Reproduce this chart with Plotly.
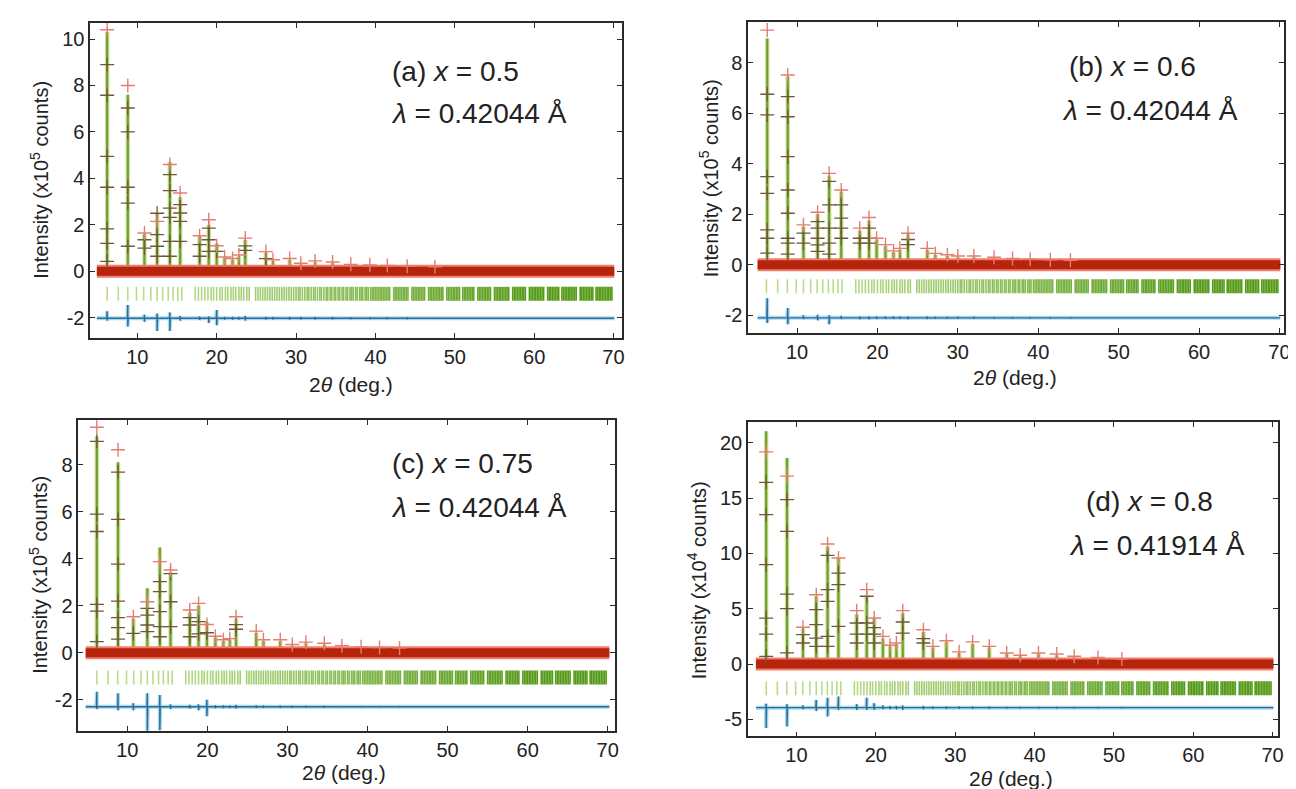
import plotly.graph_objects as go

W, H = 1296, 789

# ---------------- data ----------------
# shared Bragg reflection positions (2theta, deg.)
bragg = [6.2, 7.6, 8.8, 9.9, 10.8, 11.7, 12.5, 13.2, 13.9, 14.5, 15.1, 15.6,
         17.3, 17.7, 18.1, 18.5, 18.9, 19.3, 19.6, 20.0, 20.4, 20.7, 21.1, 21.4,
         21.8, 22.1, 22.4, 22.8, 23.1, 23.4, 23.8, 24.1, 24.9, 25.2, 25.5, 25.8,
         26.1, 26.4, 26.7, 27.0, 27.3, 27.6, 27.9, 28.2, 28.5, 28.8, 29.1, 29.4,
         29.7, 30.0, 30.3, 30.5, 30.8, 31.1, 31.4, 31.6, 31.9, 32.2, 32.4, 32.7,
         33.0, 33.2, 33.5, 33.8, 34.0, 34.3, 34.5, 34.8, 35.0, 35.3, 35.5, 35.8,
         36.0, 36.3, 36.5, 36.8, 37.0, 37.2, 37.5, 37.7, 38.0, 38.2, 38.4, 38.7,
         38.9, 39.1, 39.4, 39.6, 39.8,
         40.0, 40.2, 40.4, 40.6, 40.8, 41.0, 41.2, 41.4, 41.6, 41.8,
         42.3, 42.5, 42.7, 42.9, 43.1, 43.3, 43.5, 43.7, 43.9, 44.1,
         44.6, 44.8, 45.0, 45.2, 45.4, 45.6, 45.8, 46.0, 46.2,
         46.7, 46.9, 47.1, 47.3, 47.5, 47.7, 47.9, 48.1, 48.3, 48.5,
         49.0, 49.2, 49.4, 49.6, 49.8, 50.0, 50.2, 50.4, 50.6,
         51.0, 51.2, 51.4, 51.6, 51.8, 52.0, 52.2, 52.4,
         52.9, 53.1, 53.3, 53.5, 53.7, 53.9, 54.1, 54.3, 54.5,
         55.0, 55.2, 55.4, 55.6, 55.8, 56.0, 56.2, 56.4, 56.6, 56.8,
         57.3, 57.5, 57.7, 57.9, 58.1, 58.3, 58.5, 58.7, 58.9,
         59.4, 59.6, 59.8, 60.0, 60.2, 60.4, 60.6, 60.8, 61.0, 61.2,
         61.7, 61.9, 62.1, 62.3, 62.5, 62.7, 62.9, 63.1,
         63.5, 63.7, 63.9, 64.1, 64.3, 64.5, 64.7, 64.9, 65.1, 65.3,
         65.8, 66.0, 66.2, 66.4, 66.6, 66.8, 67.0, 67.2, 67.4,
         67.8, 68.0, 68.2, 68.4, 68.6, 68.8, 69.0, 69.2, 69.4, 69.6, 69.8]

x_ticks = [10, 20, 30, 40, 50, 60, 70]

# (a) x = 0.5
pk_a = [6.2, 8.8, 10.9, 12.5, 14.1, 15.4, 17.85, 19.0, 20.0, 21.0, 22.0, 22.8,
        23.6, 26.2, 27.1, 29.2, 30.6, 32.4, 34.6, 36.9, 39.3, 41.5, 44.0, 47.5]
calc_a = [10.3, 7.6, 1.6, 2.5, 4.7, 3.2, 1.5, 2.0, 1.2, 0.6, 0.5, 0.65,
          1.35, 0.8, 0.45, 0.5, 0.3, 0.4, 0.35, 0.25, 0.25, 0.2, 0.2, 0.15]
obs_a = [10.4, 8.0, 1.65, 2.15, 4.6, 3.37, 1.53, 2.22, 1.1, 0.62, 0.55, 0.7,
         1.43, 0.85, 0.5, 0.55, 0.35, 0.45, 0.4, 0.3, 0.28, 0.25, 0.22, 0.2]
side_a = [[8.9, 7.58, 4.95, 3.62, 1.83, 1.2, 0.43], [7.03, 6.0, 3.62, 2.94, 1.08],
          [1.36, 1.0], [2.5, 1.58, 1.08, 0.65], [4.16, 3.47, 2.72, 2.32, 1.29, 0.65],
          [2.87, 2.51, 2.15, 1.29], [1.15, 0.65], [1.86, 1.36, 0.86], [0.86],
          [], [], [], [1.1, 0.9], [0.55], [], [], [], [], [], [], [], [], [], []]
up_a = [0.3, 0.57, 0.15, 0.2, 0.25, 0.1, 0.08, 0.08, 0.35, 0.06, 0.06, 0.06,
        0.1, 0.06, 0.05, 0.06, 0.05, 0.05, 0.05, 0.04, 0.04, 0.04, 0.04, 0.03]
dn_a = [0.1, 0.36, 0.15, 0.55, 0.55, 0.1, 0.08, 0.2, 0.3, 0.06, 0.06, 0.06,
        0.1, 0.06, 0.05, 0.06, 0.05, 0.05, 0.05, 0.04, 0.04, 0.04, 0.04, 0.03]

# (b) x = 0.6
pk_b = [6.3, 8.85, 10.8, 12.56, 14.0, 15.5, 17.8, 18.96, 19.9, 21.0, 22.0, 22.8,
        23.8, 26.2, 27.2, 28.7, 30.0, 32.0, 34.5, 36.8, 39.0, 41.5, 44.0]
calc_b = [8.96, 7.45, 1.5, 2.0, 3.5, 2.9, 1.35, 1.75, 1.0, 0.75, 0.5, 0.6,
          1.2, 0.6, 0.4, 0.35, 0.3, 0.3, 0.25, 0.2, 0.2, 0.15, 0.15]
obs_b = [9.29, 7.51, 1.58, 2.08, 3.62, 2.96, 1.45, 1.87, 1.05, 0.8, 0.55, 0.65,
         1.25, 0.65, 0.45, 0.4, 0.35, 0.35, 0.3, 0.25, 0.22, 0.2, 0.18]
side_b = [[6.75, 5.93, 3.49, 2.83, 1.38, 1.05, 0.46],
          [6.66, 5.86, 4.28, 2.96, 2.04, 1.05, 0.86, 0.42],
          [1.25, 0.86], [1.71, 1.45, 1.05, 0.79, 0.53], [3.3, 2.37, 1.45, 0.86, 0.42],
          [2.37, 1.85, 1.45, 1.05], [1.05, 0.86], [1.45, 1.05, 0.86],
          [], [], [], [], [1.0, 0.8], [], [], [], [], [], [], [], [], [], []]
up_b = [0.78, 0.39, 0.1, 0.12, 0.1, 0.08, 0.06, 0.06, 0.05, 0.05, 0.05, 0.05,
        0.06, 0.05, 0.04, 0.04, 0.04, 0.04, 0.03, 0.03, 0.03, 0.03, 0.03]
dn_b = [0.2, 0.25, 0.05, 0.1, 0.25, 0.05, 0.06, 0.06, 0.05, 0.05, 0.05, 0.05,
        0.06, 0.05, 0.04, 0.04, 0.04, 0.04, 0.03, 0.03, 0.03, 0.03, 0.03]

# (c) x = 0.75
pk_c = [6.19, 8.84, 10.75, 12.5, 14.06, 15.4, 17.8, 18.9, 19.94, 21.0, 22.0, 22.8,
        23.58, 26.1, 27.0, 29.1, 30.6, 32.3, 34.6, 36.8, 39.2, 41.5, 44.0]
calc_c = [9.21, 8.11, 1.45, 2.74, 4.48, 3.4, 1.7, 2.0, 1.32, 0.65, 0.5, 0.55,
          1.45, 0.85, 0.5, 0.5, 0.3, 0.4, 0.35, 0.25, 0.22, 0.2, 0.15]
obs_c = [9.6, 8.64, 1.53, 2.17, 3.88, 3.52, 1.82, 2.1, 1.2, 0.7, 0.55, 0.6,
         1.53, 0.92, 0.55, 0.55, 0.35, 0.45, 0.4, 0.3, 0.25, 0.22, 0.2]
side_c = [[9.0, 5.9, 5.16, 2.06, 1.77, 0.47], [7.69, 5.68, 3.77, 2.2, 1.49, 1.07, 0.58],
          [0.82], [1.89, 1.6, 1.18, 0.9], [3.03, 2.6, 1.75, 1.11, 0.68],
          [3.37, 2.17, 1.11], [1.49, 1.18, 0.68], [1.32, 0.8], [0.85],
          [], [], [], [1.2, 1.0], [], [], [], [], [], [], [], [], [], []]
up_c = [0.64, 0.57, 0.15, 0.57, 0.5, 0.1, 0.08, 0.1, 0.3, 0.06, 0.06, 0.06,
        0.08, 0.06, 0.05, 0.05, 0.04, 0.04, 0.04, 0.03, 0.03, 0.03, 0.03]
dn_c = [0.1, 0.15, 0.15, 1.07, 1.0, 0.1, 0.08, 0.15, 0.4, 0.06, 0.06, 0.06,
        0.08, 0.06, 0.05, 0.05, 0.04, 0.04, 0.04, 0.03, 0.03, 0.03, 0.03]

# (d) x = 0.8
pk_d = [6.19, 8.82, 10.83, 12.5, 13.93, 15.3, 17.6, 18.86, 19.8, 20.9, 21.8, 22.6,
        23.4, 26.0, 27.2, 28.9, 30.5, 32.2, 34.3, 36.5, 38.2, 40.5, 42.8, 45.0, 48.0, 51.0]
calc_d = [21.06, 18.64, 3.2, 6.1, 10.6, 9.59, 4.5, 6.2, 4.16, 2.3, 1.6, 1.8,
          4.6, 2.9, 1.5, 2.0, 1.0, 1.8, 1.5, 0.9, 0.7, 0.9, 0.8, 0.6, 0.5, 0.4]
obs_d = [19.19, 17.0, 3.32, 6.27, 10.86, 9.59, 4.83, 6.73, 4.16, 2.5, 1.7, 1.9,
         4.83, 3.1, 1.6, 2.1, 1.1, 2.0, 1.6, 1.0, 0.8, 1.0, 0.9, 0.7, 0.6, 0.45]
side_d = [[16.44, 13.51, 8.99, 4.16, 2.71, 0.7], [14.87, 12.0, 6.33, 5.01, 1.0],
          [2.66, 1.9], [4.92, 3.56, 2.35, 1.6], [9.83, 6.73, 5.67, 2.5, 1.6],
          [8.23, 7.18, 3.41], [3.71, 2.71, 1.9], [6.13, 3.71, 2.7], [3.3, 2.7, 1.9],
          [], [], [], [3.8, 2.8], [2.3, 1.9], [], [], [], [], [], [], [], [], [], [], [], []]
up_d = [0.35, 0.3, 0.2, 0.7, 0.9, 1.0, 0.3, 0.9, 0.4, 0.2, 0.15, 0.15,
        0.2, 0.15, 0.1, 0.12, 0.1, 0.1, 0.1, 0.08, 0.08, 0.08, 0.08, 0.06, 0.06, 0.05]
dn_d = [1.85, 1.7, 0.15, 0.3, 0.8, 0.2, 0.2, 0.2, 0.2, 0.15, 0.15, 0.15,
        0.2, 0.15, 0.1, 0.12, 0.1, 0.1, 0.1, 0.08, 0.08, 0.08, 0.08, 0.06, 0.06, 0.05]

panels = [
    dict(pk=pk_a, calc=calc_a, obs=obs_a, side=side_a, up=up_a, dn=dn_a,
         scan=[4.9, 70.1], bragg_y=-0.97, diff_base=-2.02,
         yticks=[-2, 0, 2, 4, 6, 8, 10], xr=[4.07, 71.03], yr=[-2.87, 10.69],
         px=[82.7, 617], py=[15, 330], exp="5",
         lab1="(a) <i>x</i> = 0.5", lab2="<i>λ</i> = 0.42044 Å",
         l1=(384, 63), l2=(383, 106), yt=(31, 172), xt=(345, 376)),
    dict(pk=pk_b, calc=calc_b, obs=obs_b, side=side_b, up=up_b, dn=dn_b,
         scan=[5.1, 70.1], bragg_y=-0.85, diff_base=-2.1,
         yticks=[-2, 0, 2, 4, 6, 8], xr=[3.94, 70.57], yr=[-2.70, 9.61],
         px=[744.3, 1283], py=[14, 325], exp="5",
         lab1="(b) <i>x</i> = 0.6", lab2="<i>λ</i> = 0.42044 Å",
         l1=(1065, 58), l2=(1058, 102), yt=(704, 170), xt=(1012, 370)),
    dict(pk=pk_c, calc=calc_c, obs=obs_c, side=side_c, up=up_c, dn=dn_c,
         scan=[4.8, 70.2], bragg_y=-1.06, diff_base=-2.3,
         yticks=[-2, 0, 2, 4, 6, 8], xr=[3.88, 70.87], yr=[-3.32, 9.92],
         px=[70.7, 610], py=[411.7, 722.7], exp="5",
         lab1="(c) <i>x</i> = 0.75", lab2="<i>λ</i> = 0.42044 Å",
         l1=(384, 455), l2=(383, 499), yt=(30, 567), xt=(338, 764)),
    dict(pk=pk_d, calc=calc_d, obs=obs_d, side=side_d, up=up_d, dn=dn_d,
         scan=[4.9, 70.1], bragg_y=-2.2, diff_base=-3.95,
         yticks=[-5, 0, 5, 10, 15, 20], xr=[3.9, 70.69], yr=[-6.54, 21.87],
         px=[744, 1277], py=[414.3, 728.3], exp="4",
         lab1="(d) <i>x</i> = 0.8", lab2="<i>λ</i> = 0.41914 Å",
         l1=(1082, 493), l2=(1065, 537), yt=(692, 572), xt=(1008, 770)),
]

FONT = "Arial, Liberation Sans, sans-serif"
AX = "#2a2a2a"


def bragg_color(x):
    # lighter green at low angle, darker where reflections crowd together
    t = min(max((x - 15.0) / 45.0, 0.0), 1.0)
    r = int(185 + (85 - 185) * t)
    g = int(220 + (155 - 220) * t)
    b = int(140 + (25 - 140) * t)
    return "rgb(%d,%d,%d)" % (r, g, b)


bragg_colors = [bragg_color(v) for v in bragg]

fig = go.Figure()
annotations = []
layout = {}

for i, p in enumerate(panels):
    n = "" if i == 0 else str(i + 1)
    xa, ya = "x" + n, "y" + n

    # calculated profile (sticks)
    cx, cy = [], []
    for pos, h in zip(p["pk"], p["calc"]):
        cx += [pos, pos, None]
        cy += [0, h, None]
    fig.add_trace(go.Scatter(x=cx, y=cy, mode="lines", xaxis=xa, yaxis=ya,
                             line=dict(color="rgba(185,215,120,0.7)", width=4.5),
                             hoverinfo="skip"))
    fig.add_trace(go.Scatter(x=cx, y=cy, mode="lines", xaxis=xa, yaxis=ya,
                             line=dict(color="rgb(112,160,48)", width=2.2),
                             hoverinfo="skip"))

    # observed background band
    fig.add_trace(go.Scatter(x=p["scan"], y=[0, 0], mode="lines", xaxis=xa, yaxis=ya,
                             line=dict(color="rgb(240,125,110)", width=13),
                             hoverinfo="skip"))
    fig.add_trace(go.Scatter(x=p["scan"], y=[0, 0], mode="lines", xaxis=xa, yaxis=ya,
                             line=dict(color="rgb(182,36,12)", width=9),
                             hoverinfo="skip"))

    # observed points on peak flanks
    sx, sy = [], []
    for pos, vals in zip(p["pk"], p["side"]):
        for v in vals:
            sx.append(pos)
            sy.append(v)
    fig.add_trace(go.Scatter(x=sx, y=sy, mode="markers", xaxis=xa, yaxis=ya,
                             marker=dict(symbol="cross-thin", size=10,
                                         line=dict(color="rgb(110,88,58)", width=1.3)),
                             hoverinfo="skip"))
    # observed peak tops
    fig.add_trace(go.Scatter(x=p["pk"], y=p["obs"], mode="markers", xaxis=xa, yaxis=ya,
                             marker=dict(symbol="cross-thin", size=10,
                                         line=dict(color="rgb(226,125,112)", width=1.4)),
                             hoverinfo="skip"))

    # Bragg reflections
    fig.add_trace(go.Scatter(x=bragg, y=[p["bragg_y"]] * len(bragg), mode="markers",
                             xaxis=xa, yaxis=ya,
                             marker=dict(symbol="line-ns", size=10,
                                         line=dict(color=bragg_colors, width=1.6)),
                             hoverinfo="skip"))

    # difference curve
    b = p["diff_base"]
    dx, dy = [p["scan"][0]], [b]
    for pos, u, d in zip(p["pk"], p["up"], p["dn"]):
        dx += [pos - 0.05, pos, pos, pos + 0.05]
        dy += [b, b + u, b - d, b]
    dx.append(p["scan"][1])
    dy.append(b)
    fig.add_trace(go.Scatter(x=dx, y=dy, mode="lines", xaxis=xa, yaxis=ya,
                             line=dict(color="rgb(170,215,238)", width=4),
                             hoverinfo="skip"))
    fig.add_trace(go.Scatter(x=dx, y=dy, mode="lines", xaxis=xa, yaxis=ya,
                             line=dict(color="rgb(40,110,150)", width=1.4),
                             hoverinfo="skip"))

    axis_common = dict(showline=True, linecolor=AX, linewidth=1.6, mirror="ticks",
                       ticks="inside", ticklen=5, tickwidth=1.3, tickcolor=AX,
                       showgrid=False, zeroline=False,
                       tickfont=dict(family=FONT, size=20, color="#222"))
    layout["xaxis" + n] = dict(axis_common, domain=[p["px"][0] / W, p["px"][1] / W],
                               range=p["xr"], tickvals=x_ticks,
                               ticktext=[str(v) for v in x_ticks], anchor=ya)
    layout["yaxis" + n] = dict(axis_common, domain=[1 - p["py"][1] / H, 1 - p["py"][0] / H],
                               range=p["yr"], tickvals=p["yticks"],
                               ticktext=[str(v) for v in p["yticks"]], anchor=xa)

    annotations += [
        dict(text=p["lab1"], x=p["l1"][0] / W, y=1 - p["l1"][1] / H, xref="paper",
             yref="paper", xanchor="left", yanchor="middle", showarrow=False,
             font=dict(family=FONT, size=28, color="#222")),
        dict(text=p["lab2"], x=p["l2"][0] / W, y=1 - p["l2"][1] / H, xref="paper",
             yref="paper", xanchor="left", yanchor="middle", showarrow=False,
             font=dict(family=FONT, size=28, color="#222")),
        dict(text="Intensity (x10<sup>" + p["exp"] + "</sup> counts)",
             x=p["yt"][0] / W, y=1 - p["yt"][1] / H, xref="paper", yref="paper",
             xanchor="center", yanchor="middle", textangle=-90, showarrow=False,
             font=dict(family=FONT, size=20, color="#222")),
        dict(text="2<i>θ</i> (deg.)", x=p["xt"][0] / W, y=1 - p["xt"][1] / H,
             xref="paper", yref="paper", xanchor="center", yanchor="middle",
             showarrow=False, font=dict(family=FONT, size=21, color="#222")),
    ]

fig.update_layout(width=W, height=H, margin=dict(l=0, r=0, t=0, b=0),
                  paper_bgcolor="white", plot_bgcolor="white", showlegend=False,
                  annotations=annotations, **layout)

fig.write_html("out.html")
